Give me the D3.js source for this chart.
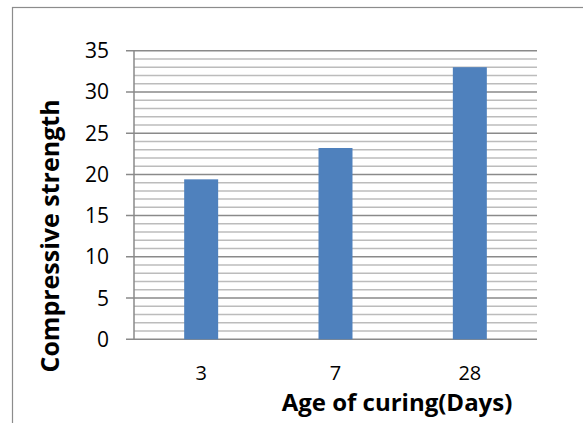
<!DOCTYPE html>
<html>
<head>
<meta charset="utf-8">
<script src="https://cdn.jsdelivr.net/npm/d3@7"></script>
<style>
  body { margin: 0; background: #fff; }
  text { font-family: "Open Sans", Lato, sans-serif; fill: #000; }
</style>
</head>
<body>
<div id="chart"></div>
<script>
const days = ['3', '7', '28'];
const strength = [19.4, 23.2, 33.0];
const yTicks = [0, 5, 10, 15, 20, 25, 30, 35];

const width = 583, height = 423;
const plotLeft = 134, plotRight = 537, plotTop = 50.7, plotBottom = 339.3;

const svg = d3.select('#chart').append('svg')
  .attr('width', width)
  .attr('height', height);

// outer chart frame (only top and left edges show)
svg.append('rect')
  .attr('x', 12.5).attr('y', 7.5)
  .attr('width', 600).attr('height', 450)
  .attr('fill', 'none')
  .attr('stroke', '#8c8c8c')
  .attr('stroke-width', 1.2);

const x = d3.scaleBand()
  .domain(days)
  .range([plotLeft, plotRight])
  .paddingInner(0.747)
  .paddingOuter(0.747 / 2);

const y = d3.scaleLinear()
  .domain([0, 35])
  .range([plotBottom, plotTop]);

// minor gridlines, every unit
svg.append('g')
  .selectAll('line')
  .data(d3.range(1, 35).filter(d => d % 5 !== 0))
  .join('line')
  .attr('x1', plotLeft).attr('x2', plotRight)
  .attr('y1', d => y(d)).attr('y2', d => y(d))
  .attr('stroke', '#bcbcbc')
  .attr('stroke-width', 1.5);

// major gridlines
svg.append('g')
  .selectAll('line')
  .data(yTicks)
  .join('line')
  .attr('x1', plotLeft - 8).attr('x2', plotRight)
  .attr('y1', d => y(d)).attr('y2', d => y(d))
  .attr('stroke', '#8a8a8a')
  .attr('stroke-width', 1.5);

// y axis line
svg.append('line')
  .attr('x1', plotLeft).attr('x2', plotLeft)
  .attr('y1', plotTop).attr('y2', plotBottom)
  .attr('stroke', '#8a8a8a')
  .attr('stroke-width', 1.5);

svg.append('g')
  .selectAll('rect')
  .data(strength)
  .join('rect')
  .attr('x', (d, i) => x(days[i]))
  .attr('y', d => y(d))
  .attr('width', x.bandwidth())
  .attr('height', d => y(0) - y(d))
  .attr('fill', '#4f81bd');

// y tick labels
svg.append('g')
  .selectAll('text')
  .data(yTicks)
  .join('text')
  .attr('x', 109)
  .attr('y', d => y(d))
  .attr('dy', '0.36em')
  .attr('text-anchor', 'end')
  .style('font-size', '21px')
  .text(d => d);

// x tick labels
svg.append('g')
  .selectAll('text')
  .data(days)
  .join('text')
  .attr('x', d => x(d) + x.bandwidth() / 2)
  .attr('y', 380)
  .attr('text-anchor', 'middle')
  .style('font-size', '20px')
  .text(d => d);

svg.append('text')
  .attr('x', 397)
  .attr('y', 411)
  .attr('text-anchor', 'middle')
  .style('font-size', '24px')
  .style('font-weight', 'bold')
  .text('Age of curing(Days)');

svg.append('text')
  .attr('transform', 'translate(59,236) rotate(-90)')
  .attr('text-anchor', 'middle')
  .style('font-size', '25px')
  .style('font-weight', 'bold')
  .text('Compressive strength');
</script>
</body>
</html>
